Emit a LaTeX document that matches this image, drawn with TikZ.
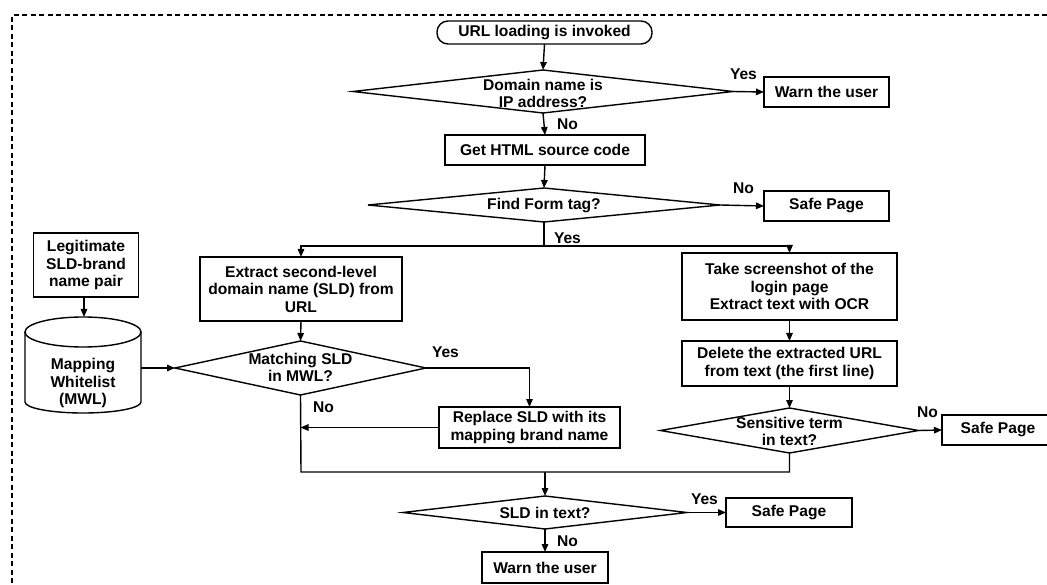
\documentclass[tikz,border=0pt]{standalone}
\usepackage{fontspec}
\setmainfont{Liberation Sans}
\usetikzlibrary{shapes.geometric,arrows.meta}
\begin{document}
\begin{tikzpicture}[x=1pt,y=1pt,
  every node/.style={font=\fontsize{15.6}{17.5}\selectfont\bfseries, inner sep=0pt, outer sep=0pt},
  line/.style={line width=1.4pt},
  arr/.style={line width=1.4pt, -{Triangle[length=8pt,width=6.5pt]}},
  box/.style={draw, line width=1.4pt, rectangle, align=center},
  dia/.style={draw, line width=1.4pt, diamond},
  lbl/.style={anchor=west}
]
\useasboundingbox (0,0) rectangle (1047,-585);
% dashed frame (top and left sides visible)
\draw[line width=1.2pt, dash pattern=on 5pt off 3.5pt] (1047,-15) -- (12,-15) -- (12,-585);

% start
\node[box, rounded corners=11pt, minimum width=215pt, minimum height=23pt] (start) at (544.5,-32.5) {URL loading is invoked};

% decision 1
\node[dia, minimum width=380pt, minimum height=43pt] (d1) at (543,-91.5) {};
\node[align=center] (d1t) at (543,-93.5) {Domain name is\\IP address?};
\node[box, minimum width=125pt, minimum height=30pt] (warn1) at (826.5,-92) {Warn the user};

\node[box, minimum width=200pt, minimum height=30pt] (html) at (545,-150) {Get HTML source code};

% decision 2
\node[dia, minimum width=352pt, minimum height=34pt] (d2) at (544,-205) {};
\node (d2t) at (544,-206) {Find Form tag?};
\node[box, minimum width=125pt, minimum height=30pt] (safe1) at (826.5,-206) {Safe Page};

\coordinate (split) at (544,-246);

% left branch
\node[box, minimum width=105pt, minimum height=64pt] (legit) at (86,-265) {Legitimate\\SLD-brand\\name pair};
\node[minimum width=116pt, minimum height=96pt] (mwl) at (83,-365) {};
\draw[line width=1.4pt] (25,-332) -- (25,-402) arc[start angle=180,end angle=360,x radius=58pt,y radius=11pt] -- (141,-332);
\draw[line width=1.4pt] (83,-332) ellipse [x radius=58pt, y radius=15pt];
\node[align=center] (mwlt) at (83,-383) {Mapping\\Whitelist\\(MWL)};

\node[box, minimum width=202pt, minimum height=64pt] (extract) at (301,-289) {Extract second-level\\domain name (SLD) from\\URL};
\node[dia, minimum width=251pt, minimum height=54pt] (dm) at (300.5,-368) {};
\node[align=center] (dmt) at (300.5,-367.5) {Matching SLD\\in MWL?};
\node[box, minimum width=181pt, minimum height=41pt] (replace) at (529.5,-427.5) {Replace SLD with its\\mapping brand name};

% right branch
\node[box, minimum width=215pt, minimum height=67pt] (take) at (789.5,-286.5) {Take screenshot of the\\login page\\Extract text with OCR};
\node[box, minimum width=215pt, minimum height=45pt] (del) at (789.5,-363.5) {Delete the extracted URL\\from text (the first line)};
\node[dia, minimum width=258pt, minimum height=45pt] (ds) at (789.5,-430.5) {};
\node[align=center] (dst) at (789.5,-431.5) {Sensitive term\\in text?};
\node[box, minimum width=112pt, minimum height=30pt] (safe2) at (998,-430) {Safe Page};

\coordinate (jl) at (301,-472);
\coordinate (jr) at (789.5,-472);

% decision 3
\node[dia, minimum width=284pt, minimum height=33pt] (d3) at (545,-512.5) {};
\node (d3t) at (545,-513) {SLD in text?};
\node[box, minimum width=126pt, minimum height=29pt] (safe3) at (789,-512.5) {Safe Page};
\node[box, minimum width=126pt, minimum height=31pt] (warn2) at (545,-567.5) {Warn the user};

% connectors
\draw[arr] (start.south) -- (d1.north);
\draw[arr] (d1.east) -- (warn1.west);
\draw[arr] (d1.south) -- (html.north);
\draw[arr] (html.south) -- (d2.north);
\draw[arr] (d2.east) -- (safe1.west);
\draw[line] (d2.south) -- (split);
\draw[arr] (split) -| (extract.north);
\draw[arr] (split) -| (take.north);
\draw[arr] (legit.south -| mwl.north) ++(1,0) -- ([xshift=1pt]mwl.north);
\draw[arr] (mwl.east |- dm.west) -- (dm.west);
\draw[arr] (extract.south) -- (dm.north);
\draw[arr] (dm.east) -| (replace.north);
\draw[arr] (replace.west) -- (dm.south |- replace.west);
\draw[line] (dm.south) -- (jl) -- (jr) -- (ds.south);
\draw[arr] (take.south) -- (del.north);
\draw[arr] (del.south) -- (ds.north);
\draw[arr] (ds.east) -- (safe2.west);
\draw[arr] (d3.north |- jl) -- (d3.north);
\draw[arr] (d3.east) -- (safe3.west);
\draw[arr] (d3.south) -- (warn2.north);

% labels
\node[lbl] (l1) at (730,-74) {Yes};
\node[lbl] (l2) at (557,-124) {No};
\node[lbl] (l3) at (733,-188) {No};
\node[lbl] (l4) at (554,-238) {Yes};
\node[lbl] (l5) at (432,-352) {Yes};
\node[lbl] (l6) at (313,-407) {No};
\node[lbl] (l7) at (917,-412) {No};
\node[lbl] (l8) at (691,-499) {Yes};
\node[lbl] (l9) at (557,-541) {No};
\end{tikzpicture}
\end{document}
